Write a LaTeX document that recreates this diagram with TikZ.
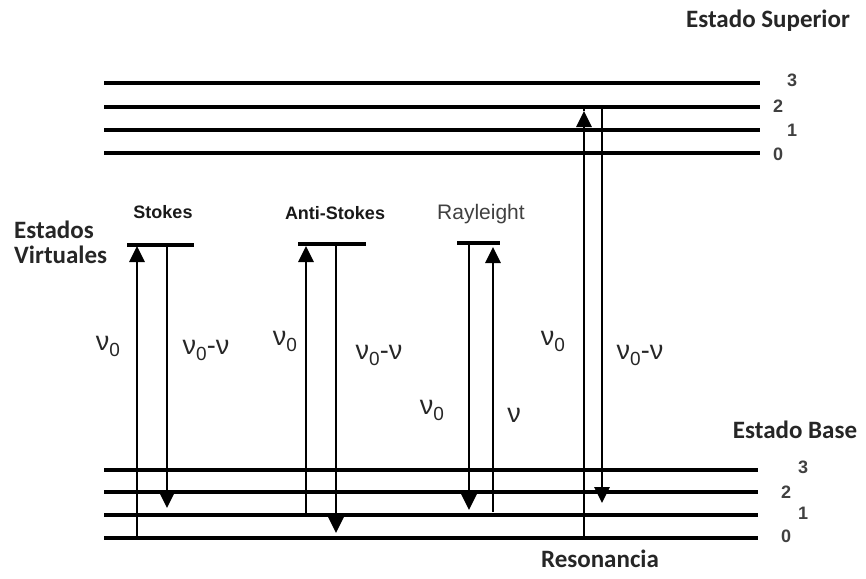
\documentclass[tikz,border=0pt]{standalone}
\usepackage{fontspec}
\setmainfont{Liberation Sans}
\newfontfamily\calfont{Carlito}
\usetikzlibrary{arrows.meta}
\tikzset{
  level/.style={line width=3.2pt},
  trans/.style={line width=2.8pt,-{Triangle[width=15pt,length=16pt]}},
  plain/.style={line width=2.8pt},
  ttl/.style={font=\calfont\bfseries\fontsize{25}{27}\selectfont,inner sep=0pt,text=black!85},
  kind/.style={font=\bfseries\fontsize{18}{20}\selectfont,inner sep=0pt,text=black!90},
  num/.style={font=\bfseries\fontsize{18}{20}\selectfont,inner sep=0pt,text=black!75},
  nu/.style={font=\fontsize{27}{29}\selectfont,inner sep=0pt,text=black!85}
}
\newcommand{\nuz}{ν\raisebox{-6pt}{\fontsize{19}{19}\selectfont 0}}
\begin{document}
\begin{tikzpicture}[x=1pt,y=-1pt]
\useasboundingbox (0,0) rectangle (866,578);
% upper levels
\foreach \n/\y in {3/83,2/107,1/130,0/153}{
  \coordinate (uL\n) at (104,\y); \coordinate (uR\n) at (760,\y);
  \draw[level] (uL\n) -- (uR\n);
}
% lower levels
\foreach \n/\y in {3/470,2/492,1/515,0/538}{
  \coordinate (lL\n) at (104,\y); \coordinate (lR\n) at (758,\y);
  \draw[level] (lL\n) -- (lR\n);
}
\node[num] (u3) at (792,80) {3};
\node[num] (u2) at (778,106) {2};
\node[num] (u1) at (792,130) {1};
\node[num] (u0) at (778,154) {0};
\node[num] (b3) at (803,467) {3};
\node[num] (b2) at (786,492) {2};
\node[num] (b1) at (803,513) {1};
\node[num] (b0) at (786,536) {0};
% virtual levels
\coordinate (sv1) at (127,245); \coordinate (sv2) at (194,245);
\coordinate (av1) at (298,244); \coordinate (av2) at (366,244);
\coordinate (rv1) at (457,243); \coordinate (rv2) at (500,243);
\draw[level] (sv1) -- (sv2);
\draw[level] (av1) -- (av2);
\draw[level] (rv1) -- (rv2);
% Stokes
\coordinate (s1b) at (137,538); \coordinate (s1t) at (137,246);
\coordinate (s2t) at (167,245); \coordinate (s2b) at (167,508);
\draw[trans] (s1b) -- (s1t);
\draw[trans] (s2t) -- (s2b);
% Anti-Stokes
\coordinate (a1b) at (306,515); \coordinate (a1t) at (306,246);
\coordinate (a2t) at (336,244); \coordinate (a2b) at (336,533);
\draw[trans] (a1b) -- (a1t);
\draw[trans] (a2t) -- (a2b);
% Rayleigh
\coordinate (r1t) at (469,243); \coordinate (r1b) at (469,510);
\coordinate (r2b) at (493,512); \coordinate (r2t) at (493,247);
\draw[trans] (r1t) -- (r1b);
\draw[trans] (r2b) -- (r2t);
% Resonance
\coordinate (e1b) at (584,538); \coordinate (e1t) at (584,111);
\coordinate (e1top) at (584,107);
\coordinate (e2t) at (602,107); \coordinate (e2b) at (602,503);
\draw[plain] (e1t) -- (e1top);
\draw[trans] (e1b) -- (e1t);
\draw[trans] (e2t) -- (e2b);
% titles
\node[ttl,anchor=base] (sup) at (768,28) {Estado Superior};
\node[ttl,anchor=base] (base) at (795,438) {Estado Base};
\node[ttl,anchor=base] (res) at (600,567) {Resonancia};
\node[ttl,anchor=base west] (ev1) at (14,238) {Estados};
\node[ttl,anchor=base west] (ev2) at (14,263) {Virtuales};
\node[kind,anchor=base] (st) at (163,218) {Stokes};
\node[kind,anchor=base] (ast) at (335,219) {Anti-Stokes};
\node[font=\fontsize{21}{23}\selectfont,inner sep=0pt,text=black!75,anchor=base] (ray) at (481,219) {Rayleight};
% frequency labels
\node[nu] (f1) at (108,346) {\nuz};
\node[nu] (f2) at (206,350) {\nuz-ν};
\node[nu] (f3) at (285,341) {\nuz};
\node[nu] (f4) at (379,355) {\nuz-ν};
\node[nu] (f5) at (432,410) {\nuz};
\node[nu] (f6) at (514,415) {ν};
\node[nu] (f7) at (553,341) {\nuz};
\node[nu] (f8) at (640,355) {\nuz-ν};
\end{tikzpicture}
\end{document}
